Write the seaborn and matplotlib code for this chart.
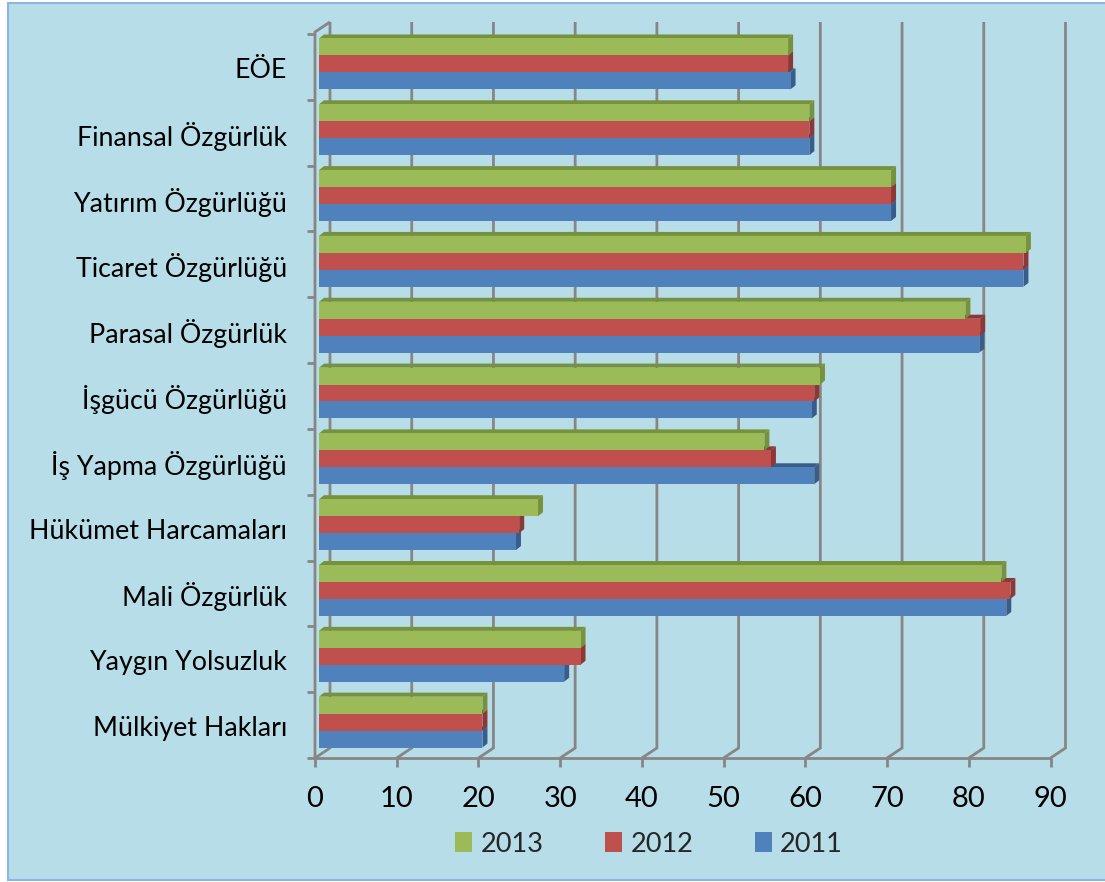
"""Turkey economic freedom scores, pseudo-3D horizontal bars drawn with seaborn."""
import matplotlib
matplotlib.use("Agg")
import matplotlib.pyplot as plt
import pandas as pd
import seaborn as sns
from matplotlib.lines import Line2D
from matplotlib.patches import Polygon, Rectangle
from matplotlib.transforms import IdentityTransform, ScaledTranslation

categories = [
    "EÖE", "Finansal Özgürlük", "Yatırım Özgürlüğü", "Ticaret Özgürlüğü",
    "Parasal Özgürlük", "İşgücü Özgürlüğü", "İş Yapma Özgürlüğü",
    "Hükümet Harcamaları", "Mali Özgürlük", "Yaygın Yolsuzluk", "Mülkiyet Hakları",
]
years = ["2013", "2012", "2011"]
values_2013 = [57.4, 60, 70, 86.5, 79.1, 61.3, 54.5, 26.8, 83.5, 32, 20]
values_2012 = [57.4, 60, 70, 86.2, 80.9, 60.6, 55.3, 24.5, 84.6, 32, 20]
values_2011 = [57.7, 60, 70, 86.2, 80.8, 60.3, 60.6, 24.1, 84.1, 30, 20]
x_ticks = list(range(0, 100, 10))

palette = {"2013": "#9BBB59", "2012": "#C0504D", "2011": "#4F81BD"}
shade = {"2013": "#76923C", "2012": "#8C3836", "2011": "#385D8A"}
GRID = "#868686"
W, H = 1105, 882

df = pd.DataFrame({
    "kategori": categories * 3,
    "yil": [y for y in years for _ in categories],
    "deger": values_2013 + values_2012 + values_2011,
})

sns.set_theme(style="white")
plt.rcParams["font.family"] = ["Lato", "DejaVu Sans"]

fig = plt.figure(figsize=(W / 100, H / 100), dpi=100, facecolor="white")
fig.add_artist(Rectangle((8 / W, 2 / H), 1110 / W, 877 / H, transform=fig.transFigure,
                         facecolor="#B7DDE8", edgecolor="#8EB4E3", linewidth=1.5, zorder=-5))

ax = fig.add_axes([319 / W, (H - 755) / H, 735.5 / W, 724 / H])
ax.patch.set_alpha(0)
sns.barplot(data=df, y="kategori", x="deger", hue="yil", order=categories, hue_order=years,
            palette=palette, width=51 / 66, saturation=1, linewidth=0, ax=ax, zorder=3)
ax.set_xlim(0, 90)
ax.set_ylim(len(categories) - 0.5, -0.5)
ax.set_xlabel("")
ax.set_ylabel("")
sns.despine(ax=ax, left=True, bottom=True)


def to_px(v, c, dx=0, dy=0):
    px, py = ax.transData.transform((v, c))
    return px + dx, py + dy


def wall(points, **kw):
    xy = [to_px(*p) for p in points]
    ax.add_line(Line2D([p[0] for p in xy], [p[1] for p in xy], transform=IdentityTransform(),
                       color=GRID, linewidth=kw.get("lw", 2.0), clip_on=False, zorder=1,
                       solid_capstyle="butt", solid_joinstyle="miter"))


# back wall and floor
y_lo, y_hi = len(categories) - 0.5, -0.5
for v in x_ticks:
    wall([(v, y_lo, -4, -3), (v, y_lo, 11, 7), (v, y_hi, 11, 9)])
    wall([(v, y_lo, -4, -3), (v, y_lo, -4, -12)])
wall([(0, y_lo, -4, -3), (90, y_lo, -4, -3)])
wall([(0, y_lo, -4, -3), (0, y_hi, -4, -1), (0, y_hi, 11, 9)])
for i in range(len(categories) + 1):
    wall([(0, y_hi + i, -4, -3), (0, y_hi + i, -12, -3)])

# bar depth: top and right faces
for rank, (container, year) in enumerate(zip(ax.containers, years)):
    for bar in container:
        x1 = bar.get_width()
        top = bar.get_y()
        bottom = top + bar.get_height()
        faces = [
            [to_px(0, top), to_px(x1, top), to_px(x1, top, 5, 4), to_px(0, top, 5, 4)],
            [to_px(x1, top), to_px(x1, bottom), to_px(x1, bottom, 5, 4), to_px(x1, top, 5, 4)],
        ]
        for face in faces:
            ax.add_patch(Polygon(face, closed=True, transform=IdentityTransform(), clip_on=False,
                                 facecolor=shade[year], edgecolor="none", zorder=2 + rank * -0.1))

ax.set_xticks(x_ticks)
ax.tick_params(axis="both", length=0, labelcolor="black")
ax.tick_params(axis="y", pad=23, labelsize=19.3)
ax.tick_params(axis="x", pad=22, labelsize=21)
for label in ax.get_yticklabels():
    label.set_transform(label.get_transform() + ScaledTranslation(0, -4 / 100, fig.dpi_scale_trans))
for label in ax.get_xticklabels():
    label.set_transform(label.get_transform() + ScaledTranslation(-4 / 100, 0, fig.dpi_scale_trans))

sns.move_legend(ax, "center", bbox_to_anchor=(649 / W, (H - 844) / H),
                bbox_transform=fig.transFigure, ncol=3, frameon=False, title=None,
                fontsize=19.5, handlelength=0.63, handleheight=0.72, handletextpad=0.3,
                columnspacing=2.28, borderpad=0)

fig.savefig("out.png", dpi=100)
